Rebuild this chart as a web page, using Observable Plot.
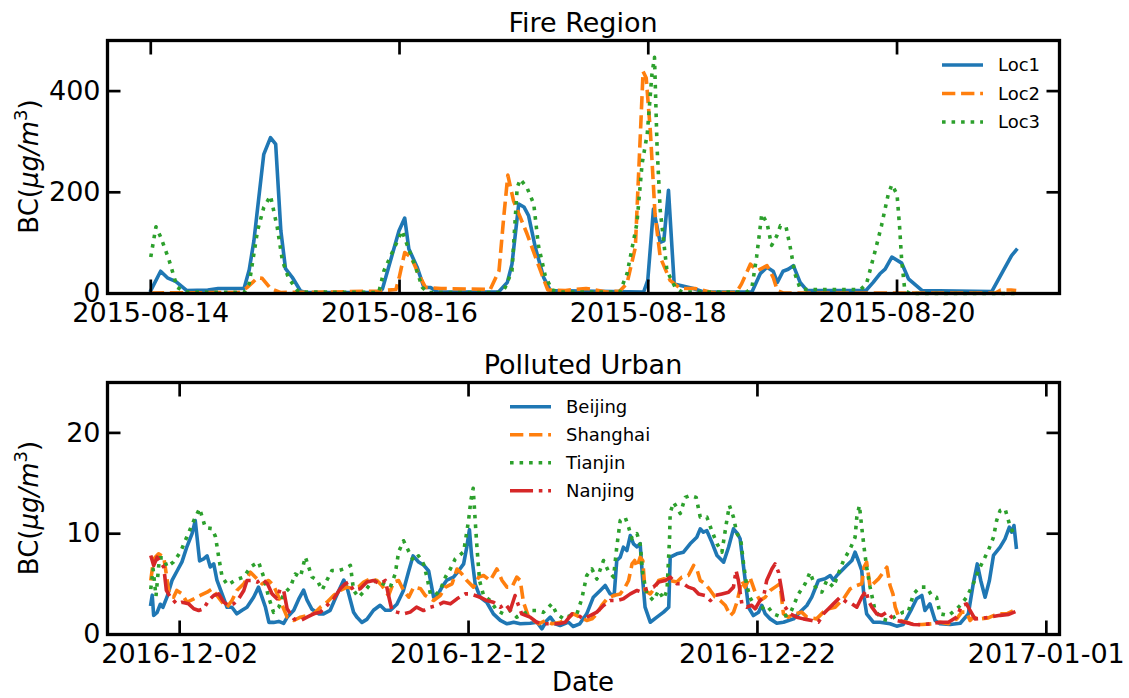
<!DOCTYPE html>
<html><head><meta charset="utf-8">
<script src="https://cdn.jsdelivr.net/npm/d3@7"></script>
<script src="https://cdn.jsdelivr.net/npm/@observablehq/plot@0.6"></script>
<style>
html,body{margin:0;padding:0;background:#fff;}
#chart{position:relative;width:1129px;height:698px;overflow:hidden;font-family:"DejaVu Sans",sans-serif;background:#fff;}
#chart svg{position:absolute;left:0;}
</style></head><body><div id="chart"></div>
<script>
// ---------- Fire Region (hours since 2015-08-14 00:00 UTC, BC value) ----------
const fireStart = "2015-08-14";
const fireTicks = ["2015-08-14","2015-08-16","2015-08-18","2015-08-20"];
const fireYTicks = [0,200,400];
const loc1 = [[0,6],[1.9,44],[3.2,31],[4.8,24],[6.9,6],[11,7],[13,10],[18,10],[19,47],[19.9,104],[21.8,275],[23.1,308],[24.1,295],[25.1,124],[26,49],[27.3,32],[28.9,5],[30,2],[44,2],[44.7,9],[47.9,124],[49,149],[49.8,88],[51.4,52],[52.7,12],[54,12],[55.3,3],[67.1,3],[68.8,22],[69.7,58],[71,177],[72,171],[72.9,154],[74.2,91],[75.8,32],[77.1,6],[95.1,3],[95.9,26],[97,167],[98.3,101],[99,104],[99.9,204],[101,19],[104.7,10],[106.7,3],[116,3],[117.6,39],[118.9,52],[120.1,44],[120.9,22],[122,44],[123,48],[124,55],[125.3,22],[126.6,6],[138,6],[139.4,22],[140.7,39],[141.7,48],[143,72],[144.9,60],[146.2,29],[148.8,6],[162.3,4],[164.5,45],[166.1,75],[167,86]];
const loc2 = [[0,1],[17,2],[18.6,12],[20.6,31],[21.5,30],[23.1,10],[25,2],[35,3],[44,5],[47.3,8],[47.9,30],[49,81],[50.2,72],[51.8,36],[53,12],[56,10],[65.5,8],[67.2,45],[68.1,150],[68.9,234],[70,183],[72.6,118],[75.2,45],[76.6,7],[80,6],[84,10],[88,3],[90.5,5],[91.9,20],[93.5,91],[94.5,321],[95,439],[95.6,426],[96.4,321],[97.3,157],[98.3,72],[100.2,26],[102.2,10],[105,10],[108.3,2],[113,2],[114,19],[115.7,58],[117,45],[118.9,55],[120.1,32],[120.9,6],[122,1],[163,1],[164,7],[166,7],[167,6]];
const loc3 = [[0,72],[1,132],[1.9,112],[3.5,67],[5.1,12],[6.7,3],[18,2],[19,20],[20.6,124],[21.8,170],[23.1,193],[24.4,131],[25.4,65],[26.6,30],[28.5,3],[44,2],[45,45],[47.2,95],[48.5,124],[49.5,95],[51.1,52],[52.4,12],[53.5,2],[67.5,2],[68.4,12],[69.7,45],[70.7,209],[71.3,226],[72.6,209],[73.9,177],[74.8,95],[76.1,36],[77.4,7],[79,3],[90.5,3],[91.9,39],[93.8,138],[94.8,256],[95.8,315],[96.7,433],[97.2,467],[97.7,288],[98.3,165],[99.6,45],[101.2,12],[102.5,3],[115,3],[116,12],[116.9,72],[117.9,157],[118.9,140],[119.8,95],[120.8,114],[121.5,134],[122.6,131],[123.4,91],[124.3,39],[125.3,10],[126.5,8],[137,8],[138.1,19],[139.8,85],[141,134],[142.3,196],[143,215],[144,196],[144.5,131],[144.9,65],[145.5,6],[146.5,0],[167,0]];

// ---------- Polluted Urban (days since 2016-12-01 00:00 UTC, BC value) ----------
const urbanStart = "2016-12-01";
const urbanTicks = ["2016-12-02","2016-12-12","2016-12-22","2017-01-01"];
const urbanYTicks = [0,10,20];
const beijing = [[0,3.0],[0.05,3.9],[0.1,1.9],[0.22,2.2],[0.33,3.0],[0.42,2.7],[0.56,3.7],[0.74,5.4],[0.91,6.3],[1.08,7.2],[1.25,8.7],[1.43,10.0],[1.54,11.3],[1.69,7.3],[1.83,7.5],[1.95,7.8],[2.06,6.7],[2.18,7.0],[2.29,5.4],[2.47,4.0],[2.64,2.7],[2.81,2.7],[2.98,2.05],[3.16,2.4],[3.33,2.7],[3.56,3.7],[3.73,4.7],[3.85,3.7],[3.97,2.7],[4.09,1.2],[4.25,1.2],[4.43,1.3],[4.6,1.1],[4.72,1.7],[4.95,2.4],[5.12,3.5],[5.29,4.4],[5.41,3.4],[5.58,2.5],[5.81,2.05],[5.98,2.05],[6.21,2.4],[6.45,4.0],[6.68,5.4],[6.79,4.7],[6.91,3.4],[7.02,2.2],[7.14,1.7],[7.31,1.2],[7.48,1.5],[7.71,2.4],[7.94,2.9],[8.12,2.4],[8.29,2.4],[8.52,3.0],[8.75,4.4],[8.93,6.3],[9.08,7.8],[9.27,7.2],[9.44,6.9],[9.62,6.3],[9.79,3.7],[9.93,3.9],[10.08,4.7],[10.25,5.4],[10.48,5.7],[10.65,6.3],[10.83,7.0],[10.94,8.7],[11.03,10.4],[11.1,8.0],[11.23,5.0],[11.4,3.7],[11.63,3.2],[11.86,2.05],[12.1,1.4],[12.33,1.06],[12.56,1.22],[12.79,1.06],[13.13,1.12],[13.37,1.22],[13.54,0.56],[13.71,1.39],[13.83,1.72],[14.0,1.06],[14.17,0.89],[14.46,1.22],[14.62,0.79],[14.85,1.06],[15.09,2.05],[15.32,3.7],[15.56,4.37],[15.73,4.86],[15.9,4.03],[16.04,3.87],[16.13,7.34],[16.25,7.67],[16.36,8.66],[16.48,8.33],[16.6,9.82],[16.71,8.99],[16.83,8.7],[16.94,9.0],[17.03,5.36],[17.11,2.71],[17.29,1.22],[17.52,1.72],[17.75,2.22],[17.93,2.71],[17.98,7.67],[18.21,8.0],[18.44,8.17],[18.67,9.0],[18.9,9.65],[19.02,10.48],[19.13,10.15],[19.25,10.3],[19.42,9.16],[19.6,7.84],[19.83,7.18],[20.0,8.66],[20.17,10.48],[20.31,10.0],[20.4,9.5],[20.52,6.7],[20.69,2.7],[20.86,1.88],[21.04,2.2],[21.15,2.9],[21.27,2.05],[21.44,1.55],[21.67,1.12],[21.9,1.22],[22.25,1.55],[22.53,2.38],[22.71,2.88],[22.88,3.7],[23.11,5.36],[23.34,5.52],[23.52,5.85],[23.63,5.4],[23.75,5.85],[23.92,6.35],[24.09,6.85],[24.27,7.34],[24.38,8.17],[24.49,7.34],[24.61,6.35],[24.69,3.7],[24.78,2.05],[25.01,1.22],[25.24,1.22],[25.59,1.06],[25.82,0.83],[26.05,0.99],[26.34,2.55],[26.51,3.54],[26.69,3.87],[26.8,2.38],[26.97,3.04],[27.15,1.39],[27.32,1.06],[27.67,0.99],[28.02,1.12],[28.3,2.05],[28.47,5.03],[28.61,7.0],[28.73,5.36],[28.88,3.7],[29.03,5.36],[29.17,7.84],[29.4,8.66],[29.57,9.49],[29.72,10.65],[29.8,10.15],[29.88,10.81],[29.96,8.66]];
const shanghai = [[0,5.36],[0.1,7.5],[0.27,8.0],[0.45,7.67],[0.62,4.37],[0.79,3.7],[0.9,4.37],[1.08,4.03],[1.25,3.2],[1.49,3.54],[1.71,3.87],[1.95,4.2],[2.12,4.53],[2.29,3.87],[2.47,3.2],[2.64,2.71],[2.81,3.37],[2.98,4.37],[3.22,5.03],[3.45,6.18],[3.62,5.69],[3.85,5.03],[4.08,5.36],[4.25,4.86],[4.48,3.37],[4.72,1.72],[4.95,1.39],[5.18,1.72],[5.41,1.88],[5.64,2.05],[5.87,2.71],[6.1,3.2],[6.33,3.87],[6.56,4.37],[6.79,4.7],[7.02,4.53],[7.19,4.7],[7.37,5.2],[7.6,5.52],[7.83,5.36],[8.0,4.86],[8.23,3.87],[8.41,5.2],[8.58,5.36],[8.75,4.37],[8.93,3.7],[9.1,4.7],[9.34,4.53],[9.5,3.87],[9.79,3.37],[10.02,3.87],[10.2,4.7],[10.43,5.03],[10.6,6.5],[10.77,6.0],[10.94,5.36],[11.17,4.7],[11.35,5.69],[11.52,5.85],[11.75,5.36],[11.98,6.5],[12.16,5.36],[12.33,4.7],[12.5,4.7],[12.67,5.69],[12.79,5.36],[12.9,3.2],[13.08,1.72],[13.25,1.39],[13.43,1.06],[13.66,1.39],[13.89,1.06],[14.18,1.22],[14.4,1.55],[14.63,2.05],[14.86,1.72],[15.09,1.39],[15.27,1.55],[15.44,2.05],[15.61,2.88],[15.79,3.54],[16.02,3.87],[16.25,4.03],[16.42,4.7],[16.54,5.36],[16.66,7.0],[16.75,7.34],[16.83,6.68],[16.94,7.67],[17.03,7.34],[17.11,4.37],[17.29,4.03],[17.46,4.7],[17.58,5.36],[17.75,5.52],[17.98,5.36],[18.21,5.2],[18.38,5.69],[18.61,5.85],[18.79,6.85],[18.9,6.5],[19.02,5.36],[19.19,5.03],[19.37,4.37],[19.54,3.7],[19.71,3.37],[19.89,2.88],[20.06,1.88],[20.17,2.2],[20.29,3.2],[20.46,5.36],[20.57,4.7],[20.74,5.69],[20.92,4.2],[21.09,3.37],[21.27,3.7],[21.44,4.37],[21.61,4.7],[21.78,5.03],[21.9,2.05],[22.07,1.72],[22.3,2.05],[22.53,2.22],[22.71,1.72],[23.05,1.55],[23.28,2.22],[23.46,2.55],[23.69,2.71],[23.98,3.54],[24.21,4.53],[24.44,4.86],[24.61,5.03],[24.69,6.68],[24.78,7.18],[24.9,4.7],[25.01,5.03],[25.19,5.52],[25.36,6.18],[25.48,6.68],[25.59,4.86],[25.69,4.03],[25.77,2.71],[25.94,1.39],[26.17,1.22],[26.4,0.99],[26.69,0.99],[27.03,1.06],[27.32,1.22],[27.61,1.06],[27.9,1.55],[28.07,2.22],[28.24,2.22],[28.36,1.39],[28.47,1.72],[28.7,1.55],[28.99,1.65],[29.17,1.88],[29.4,2.05],[29.63,2.05],[29.86,2.38],[29.96,2.55]];
const tianjin = [[0,4.5],[0.08,6.5],[0.18,3.8],[0.3,7.6],[0.45,7.6],[0.56,6.7],[0.79,7.2],[1.03,8.2],[1.25,9.7],[1.49,11.3],[1.69,12.5],[1.89,10.6],[2.12,10.5],[2.24,9.7],[2.35,7.7],[2.47,5.7],[2.66,4.9],[2.93,5.4],[3.22,5.7],[3.45,6.7],[3.73,7.2],[3.91,5.7],[4.08,3.7],[4.25,2.2],[4.43,2.7],[4.6,4.0],[4.83,4.7],[5.0,6.0],[5.18,5.7],[5.35,7.7],[5.58,5.7],[5.76,5.4],[5.93,4.4],[6.1,5.4],[6.27,6.35],[6.5,6.35],[6.68,6.5],[6.91,6.85],[7.02,4.4],[7.19,3.7],[7.43,4.4],[7.6,5.0],[7.83,5.4],[8.06,5.0],[8.29,4.7],[8.46,6.0],[8.58,8.2],[8.75,9.3],[8.92,8.3],[9.1,7.3],[9.27,7.8],[9.44,7.0],[9.56,5.7],[9.68,4.0],[9.85,3.9],[10.02,4.4],[10.2,5.7],[10.37,6.5],[10.54,7.5],[10.83,8.2],[11.0,11.3],[11.08,13.3],[11.16,14.5],[11.23,11.3],[11.29,8.7],[11.38,5.36],[11.52,3.87],[11.75,3.37],[11.98,2.38],[12.21,2.05],[12.44,2.38],[12.67,1.72],[12.9,2.05],[13.13,2.38],[13.36,2.38],[13.59,2.2],[13.88,3.04],[14.05,2.05],[14.29,1.55],[14.52,1.88],[14.75,2.05],[14.92,3.54],[15.09,5.85],[15.27,6.5],[15.44,5.5],[15.67,7.34],[15.83,6.35],[16.02,5.69],[16.13,8.66],[16.25,11.3],[16.42,11.64],[16.54,10.65],[16.66,9.49],[16.83,10.0],[16.94,9.0],[17.03,6.0],[17.17,4.03],[17.4,3.37],[17.58,4.37],[17.75,3.54],[17.87,4.37],[17.96,9.65],[17.98,12.1],[18.1,13.1],[18.33,12.0],[18.5,13.6],[18.67,13.8],[18.88,13.6],[19.02,11.64],[19.25,11.64],[19.42,10.3],[19.6,9.0],[19.77,8.17],[19.94,11.31],[20.03,12.8],[20.17,11.64],[20.29,10.0],[20.42,9.5],[20.52,7.0],[20.62,5.0],[20.74,3.7],[20.98,2.38],[21.15,2.6],[21.32,2.88],[21.55,2.05],[21.84,1.72],[22.13,2.05],[22.42,4.03],[22.65,5.03],[22.82,6.18],[23.05,4.37],[23.23,4.2],[23.4,5.36],[23.63,4.7],[23.8,6.02],[23.98,7.34],[24.21,8.5],[24.38,9.65],[24.44,11.64],[24.53,12.8],[24.61,10.65],[24.69,8.66],[24.78,6.68],[24.9,4.7],[25.07,2.38],[25.3,1.55],[25.53,1.39],[25.82,1.88],[26.05,2.22],[26.22,2.22],[26.4,4.03],[26.63,4.7],[26.86,4.7],[27.03,3.87],[27.2,3.7],[27.32,2.05],[27.61,1.88],[27.9,2.55],[28.07,3.04],[28.24,3.7],[28.47,5.03],[28.65,6.35],[28.82,7.34],[28.99,8.33],[29.17,9.65],[29.28,11.31],[29.4,12.3],[29.57,12.47],[29.72,11.0],[29.86,10.0]];
const nanjing = [[0,7.84],[0.1,6.85],[0.22,7.67],[0.45,6.68],[0.54,4.37],[0.68,3.7],[0.9,3.04],[1.08,3.2],[1.31,3.04],[1.49,2.55],[1.66,2.38],[1.83,2.55],[2.0,3.37],[2.18,3.87],[2.35,4.03],[2.53,3.2],[2.7,2.88],[2.87,3.04],[3.04,3.54],[3.22,4.37],[3.33,5.36],[3.51,5.36],[3.69,5.2],[3.85,5.52],[4.04,5.03],[4.2,4.03],[4.37,3.54],[4.48,4.53],[4.6,4.37],[4.72,2.55],[4.95,1.55],[5.18,1.39],[5.41,1.72],[5.64,2.05],[5.87,2.22],[6.1,2.88],[6.33,3.54],[6.56,4.53],[6.73,5.03],[6.85,5.2],[7.02,4.37],[7.25,4.53],[7.48,5.2],[7.71,5.36],[7.94,5.03],[8.12,5.36],[8.23,3.87],[8.35,2.38],[8.52,2.22],[8.75,2.05],[8.98,2.22],[9.2,2.71],[9.44,2.38],[9.68,2.71],[9.91,2.88],[10.14,3.2],[10.37,3.04],[10.6,3.54],[10.89,4.03],[11.06,4.03],[11.23,3.87],[11.4,3.7],[11.63,3.37],[11.86,3.2],[12.1,2.71],[12.27,3.04],[12.44,2.38],[12.61,3.87],[12.73,2.88],[12.84,2.05],[13.13,1.72],[13.36,1.22],[13.6,1.06],[13.83,1.06],[14.12,1.06],[14.35,1.22],[14.58,2.05],[14.81,1.88],[14.98,1.55],[15.21,1.88],[15.44,2.22],[15.67,2.88],[15.9,3.37],[16.13,3.37],[16.36,3.54],[16.6,4.03],[16.83,4.37],[17.0,4.2],[17.17,4.53],[17.4,4.7],[17.58,5.2],[17.81,5.36],[17.98,5.69],[18.21,5.03],[18.44,5.03],[18.61,4.7],[18.79,4.53],[18.96,4.03],[19.19,3.87],[19.37,3.37],[19.54,3.87],[19.77,4.03],[20.0,4.2],[20.17,4.7],[20.26,6.35],[20.34,5.36],[20.46,3.04],[20.63,2.71],[20.8,2.9],[20.92,2.55],[21.09,3.37],[21.21,3.7],[21.32,5.36],[21.5,6.5],[21.61,7.0],[21.73,6.18],[21.84,4.37],[21.92,2.88],[22.13,2.05],[22.36,1.72],[22.59,1.55],[22.88,1.39],[23.11,1.22],[23.28,2.05],[23.46,2.55],[23.63,3.04],[23.86,3.7],[24.09,3.2],[24.27,3.04],[24.44,2.71],[24.61,3.7],[24.76,4.37],[24.84,3.37],[24.96,2.71],[25.13,2.05],[25.3,1.88],[25.48,2.22],[25.65,1.72],[25.82,1.39],[26.11,1.22],[26.4,0.99],[26.69,0.96],[26.97,1.06],[27.32,1.22],[27.61,1.22],[27.9,1.72],[28.07,2.88],[28.24,3.04],[28.36,2.38],[28.53,1.55],[28.75,1.6],[29.0,1.7],[29.4,1.9],[29.7,2.0],[29.96,2.3]];

const fireNames = ["Loc1","Loc2","Loc3"];
const urbanNames = ["Beijing","Shanghai","Tianjin","Nanjing"];
const colors = ["#1f77b4","#ff7f0e","#2ca02c","#d62728"];

(function () {
  const LW = 3.6;
  const dashes = [null, `${3.7*LW},${1.6*LW}`, `${LW},${1.65*LW}`, `${6.4*LW},${1.6*LW},${LW},${1.6*LW}`];
  const HOUR = 36e5, DAY = 864e5;
  const fireT0 = new Date(fireStart + "T00:00:00Z").getTime();
  const urbanT0 = new Date(urbanStart + "T00:00:00Z").getTime();
  const parseDay = s => new Date(s + "T00:00:00Z");
  const fmt = d3.utcFormat("%Y-%m-%d");
  const FS = 27;
  const TICK = -13.5;

  function lineMarks(series, toDate) {
    return series.map((s, i) => Plot.line(s, {
      x: d => toDate(d[0]), y: d => d[1],
      stroke: colors[i], strokeWidth: LW,
      strokeDasharray: dashes[i] || undefined,
      strokeLinecap: i === 0 ? "square" : "butt",
      strokeLinejoin: "round"
    }));
  }
  function axisMarks(xTicks, yTicks) {
    return [
      Plot.axisX({anchor: "bottom", ticks: xTicks, tickFormat: fmt, tickSize: TICK, tickPadding: 22.5, strokeWidth: 2.7, fontSize: FS, label: null}),
      Plot.axisX({anchor: "top", ticks: xTicks, tickFormat: () => "", tickSize: TICK, strokeWidth: 2.7, label: null}),
      Plot.axisY({anchor: "left", ticks: yTicks, tickSize: TICK, tickPadding: 20.5, strokeWidth: 2.7, fontSize: FS, label: null}),
      Plot.axisY({anchor: "right", ticks: yTicks, tickFormat: () => "", tickSize: TICK, strokeWidth: 2.7, label: null}),
      Plot.frame({stroke: "black", strokeWidth: 3.3})
    ];
  }
  function yLabel(svg, cx, cy) {
    const t = d3.select(svg).append("text")
      .attr("transform", `translate(${cx},${cy}) rotate(-90)`)
      .attr("text-anchor", "middle").attr("font-size", 26).attr("font-family", "DejaVu Sans").attr("fill", "black");
    t.append("tspan").text("BC(");
    t.append("tspan").attr("font-style", "italic").text("μg/m");
    t.append("tspan").attr("font-size", 18).attr("dy", -11).text("3");
    t.append("tspan").attr("dy", 11).text(")");
  }
  function addText(svg, x, y, s, size = FS) {
    d3.select(svg).append("text").attr("x", x).attr("y", y).attr("text-anchor", "middle")
      .attr("font-size", size).attr("font-family", "DejaVu Sans").attr("fill", "black").text(s);
  }
  function legend(svg, names, x0, y0, step) {
    const g = d3.select(svg).append("g").attr("text-anchor", "start");
    names.forEach((n, i) => {
      const y = y0 + i * step;
      g.append("line").attr("x1", x0).attr("x2", x0 + 41).attr("y1", y).attr("y2", y)
        .attr("stroke", colors[i]).attr("stroke-width", LW)
        .attr("stroke-dasharray", dashes[i] || null).attr("stroke-linecap", "butt");
      g.append("text").attr("x", x0 + 56).attr("y", y).attr("dy", "0.36em").attr("text-anchor", "start")
        .attr("font-size", 18).attr("font-family", "DejaVu Sans").attr("fill", "black").text(n);
    });
  }

  const style = {fontFamily: "'DejaVu Sans', sans-serif", fontSize: FS + "px", color: "black", background: "transparent", overflow: "visible"};

  const fireDate = h => new Date(fireT0 + h * HOUR);
  const topPlot = Plot.plot({
    width: 1129, height: 345, marginTop: 40, marginBottom: 52, marginLeft: 107, marginRight: 70,
    style,
    x: {type: "utc", domain: [fireDate(-8.35), fireDate(175.35)]},
    y: {domain: [0, 500]},
    marks: [
      ...lineMarks([loc1, loc2, loc3], fireDate),
      ...axisMarks(fireTicks.map(parseDay), fireYTicks)
    ]
  });
  topPlot.style.top = "0px";
  addText(topPlot, 583, 31.7, "Fire Region");
  yLabel(topPlot, 38, 166.5);
  legend(topPlot, fireNames, 942, 65, 28.5);

  const urbanDate = d => new Date(urbanT0 + d * DAY);
  const bottomPlot = Plot.plot({
    width: 1129, height: 353, marginTop: 37, marginBottom: 64, marginLeft: 107, marginRight: 70,
    style,
    x: {type: "utc", domain: [urbanDate(-1.498), urbanDate(31.456)]},
    y: {domain: [0, 25]},
    marks: [
      ...lineMarks([beijing, shanghai, tianjin, nanjing], urbanDate),
      ...axisMarks(urbanTicks.map(parseDay), urbanYTicks)
    ]
  });
  bottomPlot.style.top = "345px";
  addText(bottomPlot, 583, 28.7, "Polluted Urban");
  addText(bottomPlot, 583, 346, "Date", 26);
  yLabel(bottomPlot, 38, 163);
  legend(bottomPlot, urbanNames, 510, 61.7, 28);

  const chart = document.getElementById("chart");
  chart.appendChild(topPlot);
  chart.appendChild(bottomPlot);
})();
</script></body></html>
